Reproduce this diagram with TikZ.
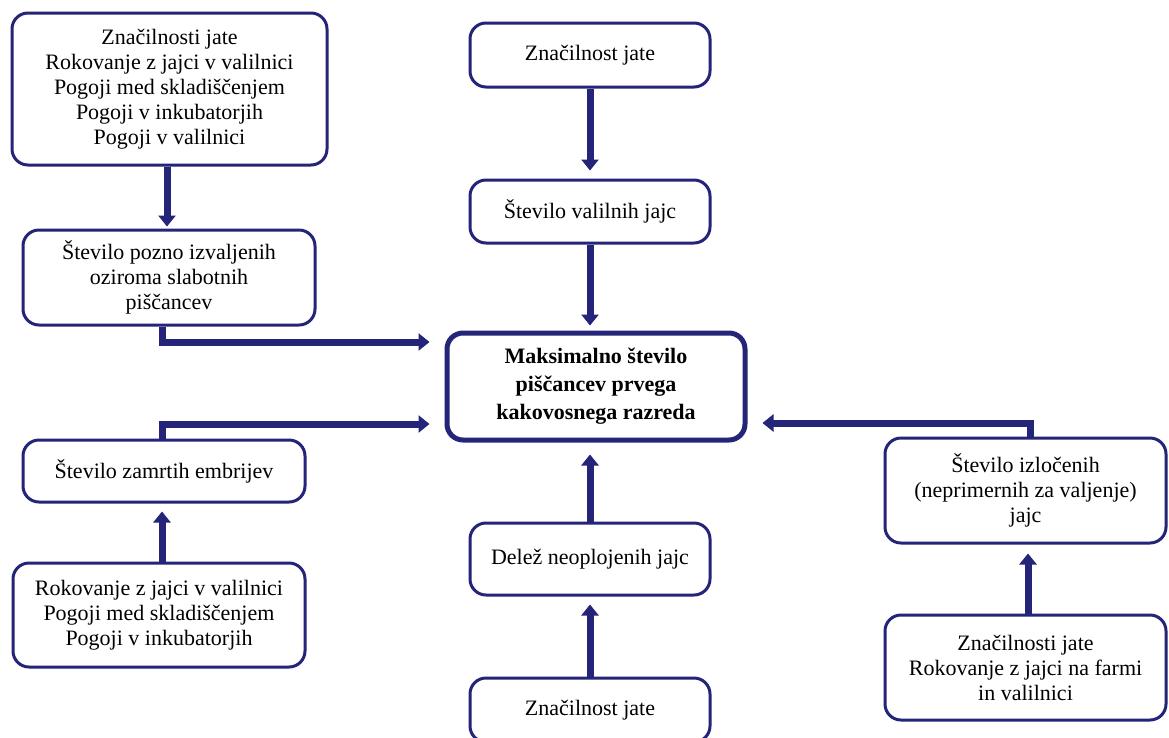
\documentclass[tikz,border=0pt]{standalone}
\usepackage{fontspec}
\setmainfont{Liberation Serif}
\usetikzlibrary{arrows.meta}
\definecolor{navy}{RGB}{36,36,120}

\begin{document}
\begin{tikzpicture}[x=1pt,y=-1pt]
\tikzstyle{box} = [rectangle, rounded corners=16pt, draw=navy, line width=3pt, fill=white, align=center, inner sep=0pt, font=\fontsize{22}{25}\selectfont]
\tikzstyle{mainbox} = [box, line width=5pt, font=\bfseries\fontsize{22}{28}\selectfont]
\tikzstyle{edge} = [-{Triangle[width=17pt,length=11pt]}, draw=navy, line width=7pt]
\clip (0,0) rectangle (1169,737);
\fill[white] (0,0) rectangle (1169,737);
\node[box, minimum width=315pt, minimum height=152pt] (jata1) at (169.5,89) {Značilnosti jate\\Rokovanje z jajci v valilnici\\Pogoji med skladiščenjem\\Pogoji v inkubatorjih\\Pogoji v valilnici};
\node[box, minimum width=292pt, minimum height=95pt] (pozno) at (169,277.5) {Število pozno izvaljenih\\oziroma slabotnih\\piščancev};
\node[box, minimum width=240pt, minimum height=64pt] (jata2) at (590,55) {Značilnost jate};
\node[box, minimum width=240pt, minimum height=63pt] (valilna) at (590,211.5) {Število valilnih jajc};
\node[mainbox, minimum width=298pt, minimum height=107pt] (main) at (596,386.5) {Maksimalno število\\piščancev prvega\\kakovosnega razreda};
\node[box, minimum width=282pt, minimum height=62pt] (zamrti) at (164,471) {Število zamrtih embrijev};
\node[box, minimum width=292pt, minimum height=104pt] (pogoji) at (159,615) {Rokovanje z jajci v valilnici\\Pogoji med skladiščenjem\\Pogoji v inkubatorjih};
\node[box, minimum width=240pt, minimum height=72pt] (delez) at (590,559) {Delež neoplojenih jajc};
\node[box, minimum width=240pt, minimum height=64pt] (jata3) at (590,710) {Značilnost jate};
\node[box, minimum width=281pt, minimum height=105pt] (izloceni) at (1025.5,490.5) {Število izločenih\\(neprimernih za valjenje)\\jajc};
\node[box, minimum width=281pt, minimum height=105pt] (farma) at (1025.5,667.5) {Značilnosti jate\\Rokovanje z jajci na farmi\\in valilnici};
\draw[edge, shorten >=2pt] ([xshift=-2.5pt]jata1.south) -- ([xshift=-2.5pt]jata1.south |- pozno.north);
\draw[edge, shorten >=15pt] ([xshift=-7pt]pozno.south) |- ([yshift=44.5pt]main.west);
\draw[edge, shorten >=15pt] ([xshift=-2pt]zamrti.north) |- ([yshift=-37.5pt]main.west);
\draw[edge, shorten >=8pt] ([xshift=3pt]pogoji.north) -- ([xshift=3pt]pogoji.north |- zamrti.south);
\draw[edge, shorten >=8pt] (jata2.south) -- (valilna.north);
\draw[edge, shorten >=5pt] (valilna.south) -- (valilna.south |- main.north);
\draw[edge, shorten >=12pt] (delez.north) -- (delez.north |- main.south);
\draw[edge, shorten >=8pt] (jata3.north) -- (delez.south);
\draw[edge, shorten >=15pt] ([xshift=4.5pt]izloceni.north) |- ([yshift=-36.5pt]main.east);
\draw[edge, shorten >=9pt] ([xshift=2.5pt]farma.north) -- ([xshift=2.5pt]izloceni.south);
\end{tikzpicture}
\end{document}
